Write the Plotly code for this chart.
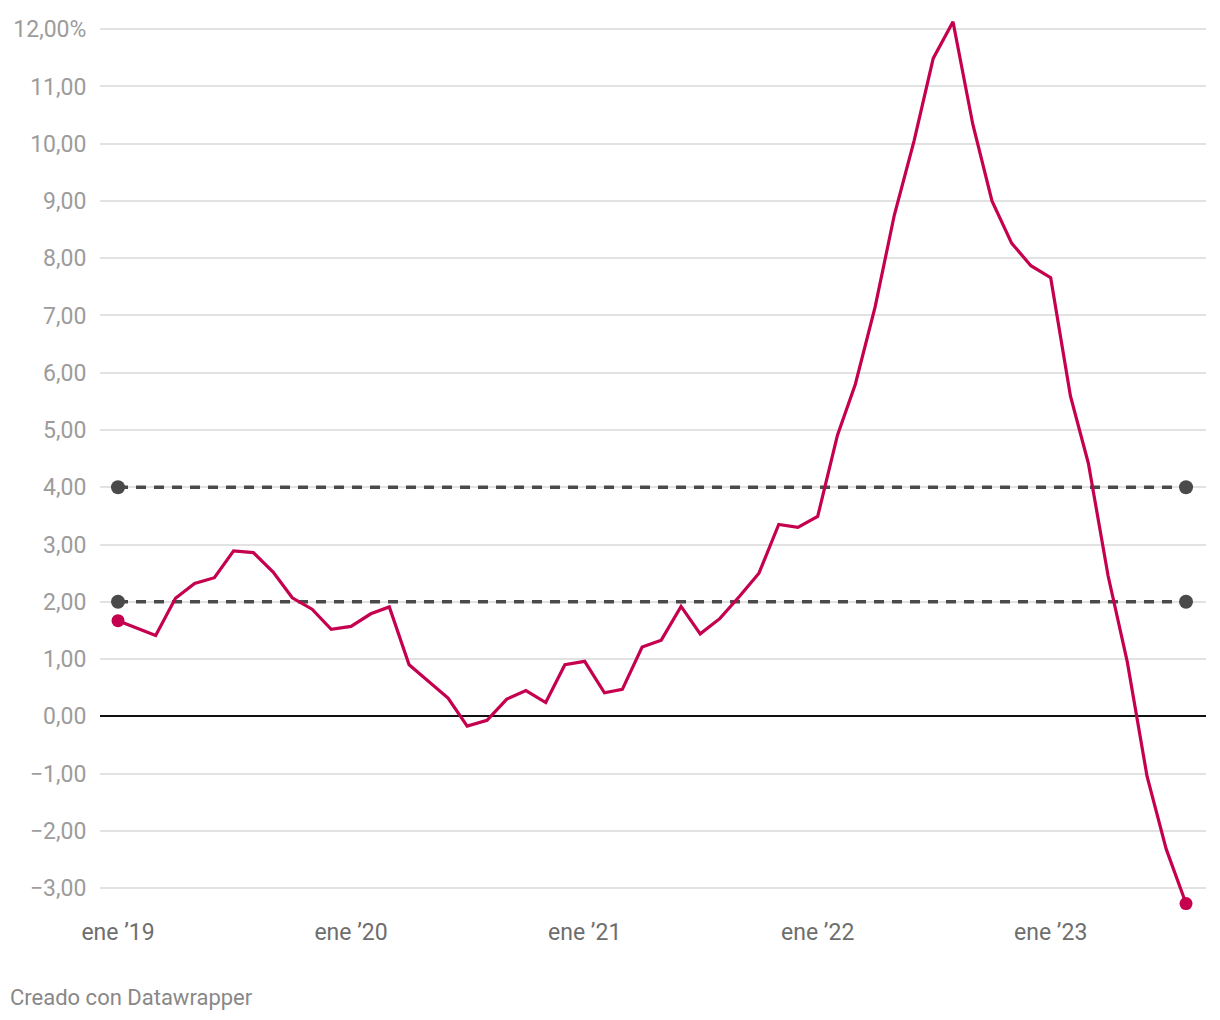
import plotly.graph_objects as go
import pandas as pd

dates = pd.date_range("2019-01-01", "2023-08-01", freq="MS")
values = [1.67, 1.54, 1.41, 2.06, 2.32, 2.42, 2.89, 2.86, 2.52, 2.07, 1.87, 1.52,
          1.57, 1.79, 1.91, 0.90, 0.61, 0.32, -0.17, -0.07, 0.30, 0.45, 0.24, 0.90,
          0.96, 0.41, 0.47, 1.21, 1.33, 1.92, 1.44, 1.71, 2.10, 2.50, 3.35, 3.30,
          3.49, 4.91, 5.80, 7.15, 8.75, 10.05, 11.49, 12.13, 10.34, 9.00, 8.26, 7.87,
          7.66, 5.59, 4.42, 2.45, 0.95, -1.05, -2.32, -3.27]
ref_levels = [2, 4]

ytick_vals = list(range(-3, 13))
ytick_text = [("\u2212%d,00" % abs(v)) if v < 0 else ("%d,00" % v) for v in ytick_vals]
ytick_text[-1] = "12,00%"
xtick_vals = ["2019-01-01", "2020-01-01", "2021-01-01", "2022-01-01", "2023-01-01"]
xtick_text = ["ene \u201919", "ene \u201920", "ene \u201921", "ene \u201922", "ene \u201923"]

LINE = "#c4004f"
REF = "#4a4a4a"

fig = go.Figure()
for lvl in ref_levels:
    fig.add_trace(go.Scatter(
        x=[dates[0], dates[-1]], y=[lvl, lvl], mode="lines+markers",
        line=dict(color=REF, width=3.5, dash="10px,8px"),
        marker=dict(size=14, color=REF), hoverinfo="skip", showlegend=False))

fig.add_trace(go.Scatter(
    x=dates, y=values, mode="lines", line=dict(color=LINE, width=3.2),
    showlegend=False))
fig.add_trace(go.Scatter(
    x=[dates[0], dates[-1]], y=[values[0], values[-1]], mode="markers",
    marker=dict(size=13, color=LINE), showlegend=False))

fig.update_layout(
    width=1220, height=1020,
    margin=dict(l=100, r=14, t=12, b=109),
    paper_bgcolor="white", plot_bgcolor="white",
    font=dict(family="Roboto", size=23, color="#999999"),
    xaxis=dict(
        type="date", range=["2018-12-03 19:00", "2023-09-01 07:00"],
        tickmode="array", tickvals=xtick_vals, ticktext=xtick_text,
        showgrid=False, zeroline=False, showline=False,
        ticks="outside", ticklen=0, tickfont=dict(color="#6e6e6e", size=23),
        ticklabelstandoff=0),
    yaxis=dict(
        range=[-3.4, 12.3], tickmode="array", tickvals=ytick_vals, ticktext=ytick_text,
        showgrid=True, gridcolor="#e2e2e2", gridwidth=1.5,
        zeroline=True, zerolinecolor="#111111", zerolinewidth=1.6,
        ticks="outside", ticklen=0, ticklabelstandoff=8,
        tickfont=dict(color="#9c9c9c", size=23)),
    annotations=[dict(
        text="Creado con Datawrapper", xref="paper", yref="paper",
        x=(8 - 100) / 1106, y=(910.9 - 997) / 899.1,
        xanchor="left", yanchor="middle", showarrow=False,
        font=dict(family="Roboto", size=22, color="#888888"))],
)

fig.write_html("out.html", config={"displayModeBar": False},
               post_script="document.body.style.margin='0';document.body.style.overflow='hidden';")
